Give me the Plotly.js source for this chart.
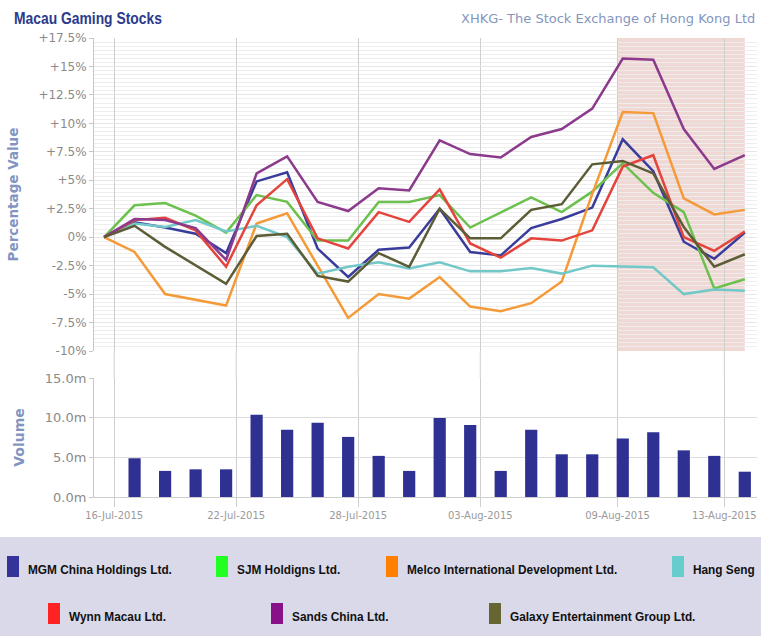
<!DOCTYPE html>
<html>
<head>
<meta charset="utf-8">
<script src="https://cdn.plot.ly/plotly-3.0.1.min.js"></script>
<style>html,body{margin:0;padding:0;background:#fff;}#chart{width:761px;height:636px;}</style>
</head>
<body>
<div id="chart"></div>
<script>
// ---------------- data ----------------
const dates = ['16-Jul-2015','17-Jul-2015','20-Jul-2015','21-Jul-2015','22-Jul-2015','23-Jul-2015','24-Jul-2015',
  '27-Jul-2015','28-Jul-2015','29-Jul-2015','30-Jul-2015','31-Jul-2015','03-Aug-2015','04-Aug-2015','05-Aug-2015',
  '06-Aug-2015','07-Aug-2015','10-Aug-2015','11-Aug-2015','12-Aug-2015','13-Aug-2015','14-Aug-2015'];

const mgm    = [0, 1.3, 0.85, 0.3, -1.4, 4.9, 5.7, -1.0, -3.5, -1.1, -0.9, 2.5, -1.3, -1.6, 0.8, 1.6, 2.6, 8.6, 5.8, -0.4, -1.9, 0.4];
const sjm    = [0, 2.8, 3.0, 1.9, 0.4, 3.7, 3.1, -0.3, -0.3, 3.1, 3.1, 3.7, 0.85, 2.2, 3.5, 2.2, 4.0, 6.5, 3.9, 2.2, -4.5, -3.7];
const melco  = [0, -1.3, -5.0, -5.5, -6.0, 1.2, 2.1, -2.5, -7.1, -5.0, -5.4, -3.5, -6.1, -6.5, -5.8, -3.9, 3.8, 11.0, 10.9, 3.4, 2.0, 2.4];
const hangSeng = [0, 1.2, 0.9, 1.5, 0.5, 1.0, 0.0, -3.2, -2.6, -2.2, -2.75, -2.2, -3.0, -3.0, -2.7, -3.2, -2.5, -2.6, -2.65, -5.0, -4.6, -4.7];
const wynn   = [0, 1.5, 1.7, 0.6, -2.6, 2.8, 5.1, -0.1, -1.0, 2.2, 1.35, 4.2, -0.55, -1.8, -0.1, -0.3, 0.6, 6.2, 7.2, 0.0, -1.2, 0.5];
const sands  = [0, 1.6, 1.5, 0.8, -2.0, 5.6, 7.1, 3.1, 2.3, 4.3, 4.1, 8.5, 7.3, 7.0, 8.8, 9.5, 11.3, 15.7, 15.6, 9.5, 6.0, 7.2];
const galaxy = [0, 1.0, -0.85, -2.5, -4.1, 0.1, 0.3, -3.4, -3.9, -1.4, -2.6, 2.5, -0.1, -0.1, 2.4, 2.9, 6.4, 6.7, 5.6, 0.9, -2.6, -1.5];

// volume in millions (no bar on the first day)
const volume = [null, 4.9, 3.3, 3.5, 3.5, 10.4, 8.5, 9.4, 7.6, 5.2, 3.3, 10.0, 9.1, 3.3, 8.5, 5.4, 5.4, 7.4, 8.2, 5.9, 5.2, 3.2];

const seriesNames = ['MGM China Holdings Ltd.','SJM Holdigns Ltd.','Melco International Development Ltd.','Hang Seng',
  'Wynn Macau Ltd.','Sands China Ltd.','Galaxy Entertainment Group Ltd.'];
const seriesData = [mgm, sjm, melco, hangSeng, wynn, sands, galaxy];
const lineColors   = ['#3a3c9c','#6cc04e','#f59a38','#72c8c8','#e5443c','#8c3a8c','#5c5c36'];
const legendColors = ['#333399','#22ff22','#ff8000','#66cccc','#ff2222','#881188','#666633'];

const xTickLabels = ['16-Jul-2015','22-Jul-2015','28-Jul-2015','03-Aug-2015','09-Aug-2015','13-Aug-2015'];
const xTickPos    = [0.33, 4.33, 8.33, 12.33, 16.83, 20.33];
const pctTicks  = [17.5, 15, 12.5, 10, 7.5, 5, 2.5, 0, -2.5, -5, -7.5, -10];
const pctLabels = ['+17.5%','+15%','+12.5%','+10%','+7.5%','+5%','+2.5%','0%','-2.5%','-5%','-7.5%','-10%'];
const volTicks  = [0, 5, 10, 15];
const volLabels = ['0.0m','5.0m','10.0m','15.0m'];
const highlightFrom = '09-Aug-2015';
const chartTitle = 'Macau Gaming Stocks';
const sourceText = 'XHKG- The Stock Exchange of Hong Kong Ltd';

// ---------------- build ----------------
const idx = dates.map((d, i) => i);
const W = 761, H = 636, ML = 94, MR = 4, MT = 38, MB = 139;
const PW = W - ML - MR, PH = H - MT - MB;
const pxX = p => (p - ML) / PW;
const pxY = p => (H - MB - p) / PH;

const sans = "'Liberation Sans', Arial, sans-serif";
const dejavu = "'DejaVu Sans', Verdana, sans-serif";
const LEGEND_SIZE = 13;
const NARROW = 0.91;

const traces = seriesData.map((s, k) => ({
  type: 'scatter', mode: 'lines', x: idx, y: s, name: seriesNames[k],
  customdata: dates, hovertemplate: '%{customdata}: %{y:+.2f}%<extra>' + seriesNames[k] + '</extra>',
  line: {color: lineColors[k], width: 2.5}, xaxis: 'x', yaxis: 'y', showlegend: false
}));
traces.push({
  type: 'bar', x: idx, y: volume, width: 0.4, marker: {color: '#2e3192'}, textposition: 'none',
  customdata: dates, hovertemplate: '%{customdata}: %{y:.1f}m<extra>Volume</extra>',
  xaxis: 'x2', yaxis: 'y2', showlegend: false
});

const topBottom = pxY(351), botTop = pxY(378);
const hlX0 = xTickPos[xTickLabels.indexOf(highlightFrom)];

const shapes = [
  {type: 'rect', xref: 'x', yref: 'y', x0: hlX0, x1: idx[idx.length - 1], y0: -10, y1: 17.5,
   fillcolor: 'rgba(200,110,100,0.27)', line: {width: 0}, layer: 'below'}
];
xTickPos.forEach(v => shapes.push({type: 'line', xref: 'x', yref: 'paper', x0: v, x1: v, y0: botTop, y1: topBottom,
  line: {color: '#cfcfcf', width: 1}, layer: 'below'}));

// legend panel
shapes.push({type: 'rect', xref: 'paper', yref: 'paper', x0: pxX(0), x1: pxX(W), y0: pxY(H), y1: pxY(537),
  fillcolor: '#d9d9ea', line: {width: 0}, layer: 'below'});
const legendSpots = [[7, 556], [216, 556], [386, 556], [672, 556], [48, 603], [271, 603], [489, 603]];
const annotations = [];
seriesNames.forEach((n, k) => {
  const [lx, ly] = legendSpots[k];
  shapes.push({type: 'rect', xref: 'paper', yref: 'paper', x0: pxX(lx), x1: pxX(lx + 12), y0: pxY(ly + 21), y1: pxY(ly),
    fillcolor: legendColors[k], line: {width: 0}});
  annotations.push({xref: 'paper', yref: 'paper', x: pxX(lx + 19), y: pxY(ly + 13.5), xanchor: 'left', yanchor: 'middle',
    align: 'left', text: n, showarrow: false, font: {family: sans, size: LEGEND_SIZE, color: '#111111', weight: 'bold'}});
});
annotations.push({xref: 'paper', yref: 'paper', x: pxX(757), y: pxY(18), xanchor: 'right', yanchor: 'middle',
  text: sourceText, showarrow: false, font: {family: dejavu, size: 13, color: '#8496bd'}});

const layout = {
  width: W, height: H, margin: {l: ML, r: MR, t: MT, b: MB, pad: 0},
  paper_bgcolor: '#ffffff', plot_bgcolor: '#ffffff', showlegend: false,
  title: {text: chartTitle, x: 14 / W, xref: 'container', xanchor: 'left', y: 1 - 18 / H, yref: 'container', yanchor: 'middle',
    font: {family: sans, size: 16.5, color: '#2b3a8c', weight: 'bold'}},
  xaxis: {domain: [0, 1], anchor: 'y', range: [-0.33, 21.4], tickmode: 'array', tickvals: xTickPos, ticktext: xTickLabels,
    showticklabels: false, showgrid: true, gridcolor: '#cfcfcf', zeroline: false, showline: false, ticks: ''},
  yaxis: {domain: [topBottom, 1], anchor: 'x', range: [-10, 17.5], tickmode: 'array', tickvals: pctTicks, ticktext: pctLabels,
    tickfont: {family: dejavu, size: 12, color: '#8a8a8a'}, showgrid: true, gridcolor: '#e6e6e6', zeroline: false,
    minor: {tickmode: 'linear', tick0: -10, dtick: 2.5 / 7, showgrid: true, gridcolor: '#eeeeee', ticks: ''},
    showline: true, linecolor: '#c8c8c8', ticks: 'outside', ticklen: 4, tickcolor: '#c8c8c8',
    title: {text: 'Percentage Value', standoff: 16, font: {family: dejavu, size: 13.5, color: '#8294c2', weight: 'bold'}}},
  xaxis2: {domain: [0, 1], anchor: 'y2', matches: 'x', range: [-0.33, 21.4], tickmode: 'array', tickvals: xTickPos, ticktext: xTickLabels,
    tickfont: {family: dejavu, size: 10, color: '#9a9a9a'}, showgrid: true, gridcolor: '#cfcfcf', zeroline: false,
    showline: true, linecolor: '#cfcfcf', ticks: 'outside', ticklen: 9, tickcolor: '#cfcfcf'},
  yaxis2: {domain: [0, botTop], anchor: 'x2', range: [0, 15.05], tickmode: 'array', tickvals: volTicks, ticktext: volLabels,
    tickfont: {family: dejavu, size: 13, color: '#8a8a8a'}, showgrid: true, gridcolor: '#dcdcdc', zeroline: false,
    showline: true, linecolor: '#c8c8c8', ticks: 'outside', ticklen: 4, tickcolor: '#c8c8c8',
    title: {text: 'Volume', standoff: 16, font: {family: dejavu, size: 14, color: '#8294c2', weight: 'bold'}}},
  bargap: 0.6, shapes: shapes, annotations: annotations
};

// condensed look for the title and legend labels (the reference uses a narrow bold face)
function squeeze(el, f) {
  const w = el.getComputedTextLength();
  const nw = w * f;
  el.setAttribute('textLength', nw.toFixed(1));
  el.setAttribute('lengthAdjust', 'spacingAndGlyphs');
  const g = el.parentNode;
  if (g) {
    g.querySelectorAll('rect').forEach(r => {
      const rw = parseFloat(r.getAttribute('width'));
      if (!isNaN(rw)) r.setAttribute('width', Math.max(0, rw - (w - nw)).toFixed(1));
    });
  }
}
Plotly.newPlot('chart', traces, layout, {displayModeBar: false, staticPlot: true}).then(gd => {
  gd.querySelectorAll('.annotation-text').forEach(el => {
    if (seriesNames.indexOf(el.textContent) >= 0) squeeze(el, NARROW);
  });
  const t = gd.querySelector('.gtitle');
  if (t) squeeze(t, 0.84);
});
</script>
</body>
</html>
